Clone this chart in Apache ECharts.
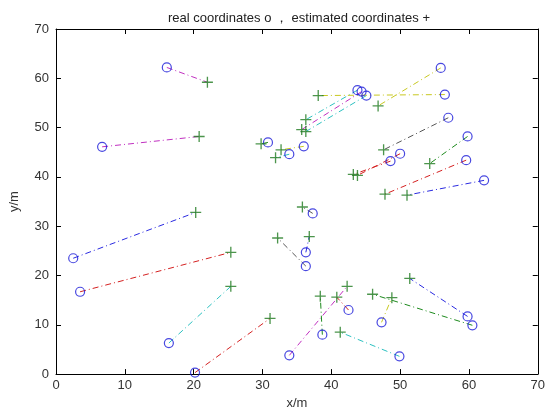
<!DOCTYPE html>
<html>
<head>
<meta charset="utf-8">
<script src="https://cdn.jsdelivr.net/npm/echarts@6/dist/echarts.min.js"></script>
<style>
  html, body { margin: 0; padding: 0; background: #fff; }
  #chart { width: 548px; height: 415px; }
</style>
</head>
<body>
<div id="chart"></div>
<script>
// real positions (o)
const realX = [16.1, 6.7, 2.5, 3.5, 16.4, 20.2, 30.8, 36.0, 33.9, 43.8, 44.4, 45.1, 56.5, 55.9, 57.0,
  59.8, 59.6, 62.2, 48.6, 50.0, 37.3, 36.3, 36.3, 33.9, 38.7, 42.5, 49.9, 47.3, 60.5, 59.8]
const realY = [62.2, 46.1, 23.5, 16.7, 6.3, 0.3, 47.0, 46.2, 44.6, 57.6, 57.3, 56.5, 56.7, 62.1, 52.0,
  48.2, 43.4, 39.3, 43.2, 44.7, 32.6, 21.9, 24.7, 3.8, 8.0, 13.0, 3.6, 10.5, 9.9, 11.7]
// estimated positions (+)
const estX = [22.0, 20.8, 20.3, 25.4, 25.4, 31.1, 29.8, 32.7, 31.9, 36.3, 35.7, 36.3, 38.1, 46.8, 47.6,
  54.3, 47.8, 51.0, 43.2, 43.8, 35.8, 32.2, 36.8, 42.3, 38.4, 40.8, 41.3, 48.8, 46.0, 51.4]
const estY = [59.2, 48.2, 32.8, 24.7, 17.8, 11.3, 46.7, 45.5, 43.9, 51.6, 49.6, 49.2, 56.5, 54.4, 45.5,
  42.7, 36.5, 36.3, 40.5, 40.3, 33.9, 27.6, 27.9, 17.8, 15.8, 15.6, 8.5, 15.5, 16.2, 19.4]
const axisTicks = [0, 10, 20, 30, 40, 50, 60, 70]

// line colour for each pair (matlab-ish colour order)
const palette = {
  b: "#2a2ae0", g: "#1d8a1d", r: "#d42020", c: "#2cc0c0",
  m: "#c030c0", y: "#c8c820", k: "#555555"
}
const pairColors = "mmbrcrgyccmcyykgrbrrkkbmgrcygb".split("")

const chart = echarts.init(document.getElementById("chart"))

const pairSeries = realX.map((x, i) => ({
  type: "line",
  data: [[x, realY[i]], [estX[i], estY[i]]],
  symbol: "none",
  silent: true,
  z: 1,
  lineStyle: {
    color: palette[pairColors[i]],
    width: 1,
    type: [6, 3, 1, 3]
  }
}))

const axisBase = {
  type: "value",
  min: axisTicks[0],
  max: axisTicks[axisTicks.length - 1],
  interval: 10,
  splitLine: { show: false },
  axisLine: { show: true, onZero: false, lineStyle: { color: "#000", width: 1 } },
  axisTick: { show: true, inside: true, length: 5, lineStyle: { color: "#000" } }
}
const labelStyle = { color: "#333", fontSize: 13, fontFamily: "Liberation Sans" }

const option = {
  animation: false,
  title: {
    text: "real coordinates o \uFF0C estimated coordinates +",
    left: 294,
    top: 7,
    textAlign: "center",
    textStyle: { fontSize: 13, fontWeight: "normal", color: "#222", fontFamily: "Liberation Sans" }
  },
  grid: { left: 55, right: 9, top: 29, bottom: 37 },
  xAxis: [
    Object.assign({}, axisBase, {
      position: "bottom",
      name: "x/m",
      nameLocation: "middle",
      nameGap: 22,
      nameTextStyle: labelStyle,
      axisLabel: Object.assign({ margin: 5 }, labelStyle)
    }),
    Object.assign({}, axisBase, { position: "top", axisLabel: { show: false } })
  ],
  yAxis: [
    Object.assign({}, axisBase, {
      position: "left",
      name: "y/m",
      nameLocation: "middle",
      nameGap: 35,
      nameTextStyle: labelStyle,
      axisLabel: Object.assign({ margin: 7 }, labelStyle)
    }),
    Object.assign({}, axisBase, { position: "right", axisLabel: { show: false } })
  ],
  series: pairSeries.concat([
    {
      type: "scatter",
      data: realX.map((x, i) => [x, realY[i]]),
      symbol: "circle",
      symbolSize: 9,
      z: 3,
      itemStyle: { color: "rgba(0,0,0,0)", borderColor: "#1a1ad8", borderWidth: 1.2 }
    },
    {
      type: "scatter",
      data: estX.map((x, i) => [x, estY[i]]),
      symbol: "path://M4.4,0H5.6V4.4H10V5.6H5.6V10H4.4V5.6H0V4.4H4.4Z",
      symbolSize: 11,
      z: 4,
      itemStyle: { color: "#1f7a1f" }
    }
  ])
}

chart.setOption(option)
</script>
</body>
</html>
